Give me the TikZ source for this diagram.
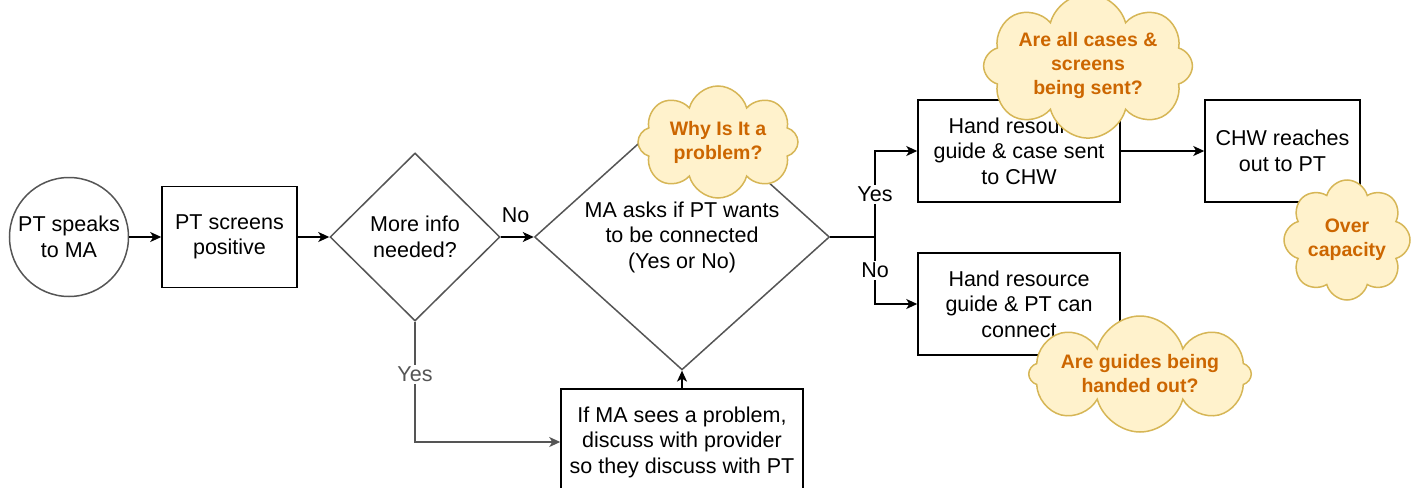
\documentclass[tikz,border=0pt]{standalone}
\usepackage{fontspec}
\setmainfont{Liberation Sans}
\usetikzlibrary{shapes.geometric,shapes.symbols,arrows.meta}
\definecolor{cloudfill}{HTML}{FFF2CC}
\definecolor{cloudline}{HTML}{D6B656}
\definecolor{cloudtext}{HTML}{CC6600}
\definecolor{edge}{HTML}{555555}
\begin{document}
\begin{tikzpicture}[x=1pt,y=-1pt,
	font=\fontsize{21.5}{25.5}\selectfont, line width=1.5pt,
	>={Stealth[length=11pt,width=10pt,inset=3pt]},
	box/.style={draw, rectangle, align=center, inner sep=0pt},
	start/.style={draw=edge, circle, align=center, minimum size=119pt, inner sep=0pt},
	choice/.style={draw=edge, diamond, align=center, inner sep=0pt},
	note/.style={cloud, cloud puffs=8, cloud ignores aspect, draw=cloudline, fill=cloudfill,
		text=cloudtext, align=center, inner sep=0pt,
		font=\bfseries\fontsize{19.5}{24}\selectfont},
	lbl/.style={fill=white, inner sep=2pt}]
\useasboundingbox (0,0) rectangle (1418,487);
% main flow
\node[start] (speak) at (69,237) {PT speaks\\to MA};
\node[box, minimum width=135pt, minimum height=101pt] (screen) at (229.5,237) {PT screens\\positive};
\node[choice, minimum width=170pt, minimum height=168pt] (more) at (415,237) {More info\\needed?};
\node[choice, minimum width=295pt, minimum height=168pt] (asks) at (682,237) {MA asks if PT wants\\to be connected\\(Yes or No)};
\node[box, minimum width=242pt, minimum height=106pt] (problem) at (682,442) {If MA sees a problem,\\discuss with provider\\so they discuss with PT};
\node[box, minimum width=202pt, minimum height=102pt] (sent) at (1019,151) {Hand resource\\guide \& case sent\\to CHW};
\node[box, minimum width=202pt, minimum height=102pt] (connect) at (1019,304) {Hand resource\\guide \& PT can\\connect};
\node[box, minimum width=155pt, minimum height=102pt] (chw) at (1282.5,151) {CHW reaches\\out to PT};
\coordinate (fork) at (875,237);
% connectors
\draw[->] (speak) -- (screen);
\draw[->] (screen) -- (more);
\draw[->] (more) -- node[above=10pt, pos=0.45] {No} (asks);
\draw[->, edge] (more.south) |- node[lbl, pos=0.22] {Yes} (problem.west);
\draw[->] (problem.north) -- (asks.south);
\draw[->] (asks.east) -- (fork) |- node[lbl, pos=0.25] {Yes} (sent.west);
\draw[->] (fork) |- node[lbl, pos=0.25] {No} (connect.west);
\draw[->] (sent) -- (chw);
% questions
\node[note, minimum width=160pt, minimum height=112pt] (why) at (718,142) {Why Is It a\\problem?};
\node[note, minimum width=182pt, minimum height=118pt] (cases) at (1088,66) {Are all cases \&\\screens\\being sent?};
\node[note, minimum width=126pt, minimum height=120pt] (over) at (1347,240) {Over\\capacity};
\node[note, minimum width=178pt, minimum height=116pt] (guides) at (1140,374) {Are guides being\\handed out?};
\end{tikzpicture}
\end{document}
